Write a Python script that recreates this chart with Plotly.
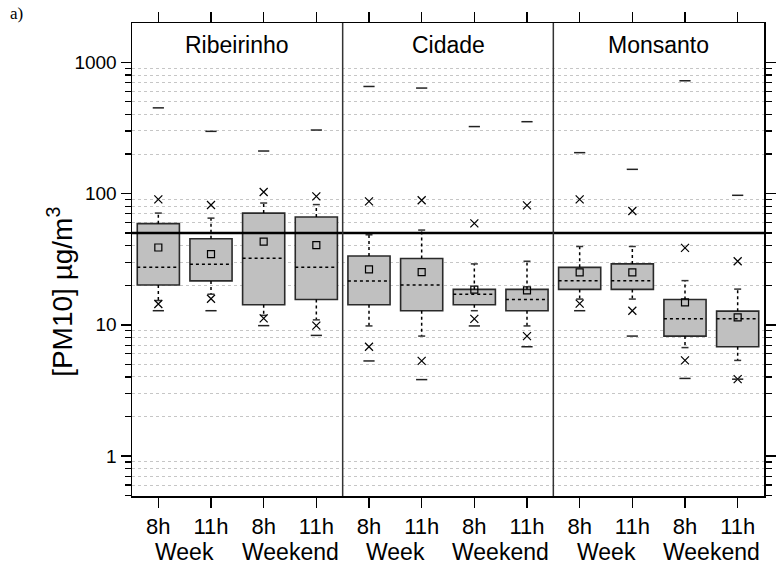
import plotly.graph_objects as go

# ---------------- data ----------------
sites = ["Ribeirinho", "Cidade", "Monsanto"]
hour_labels = ["8h", "11h", "8h", "11h", "8h", "11h", "8h", "11h", "8h", "11h", "8h", "11h"]
day_labels = ["Week", "Weekend", "Week", "Weekend", "Week", "Weekend"]

q1 =       [20.1, 21.6, 14.2, 15.6, 14.2, 12.8, 14.2, 12.8, 18.6, 18.6, 8.2, 6.8]
median =   [27.4, 28.9, 32.1, 27.4, 21.6, 20.1, 17.1, 15.6, 21.7, 21.7, 11.1, 11.1]
q3 =       [59.0, 45.2, 71.0, 66.2, 33.4, 32.0, 18.6, 18.6, 27.4, 29.1, 15.6, 12.7]
mean =     [38.8, 34.5, 43.1, 40.4, 26.4, 25.2, 18.5, 18.3, 25.1, 25.1, 14.8, 11.4]
whisk_lo = [15.3, 17.1, 11.8, 10.9, 9.8, 8.2, 12.8, 9.8, 15.7, 15.7, 6.7, 5.35]
whisk_hi = [71.0, 65.0, 84.7, 82.4, 48.5, 52.7, 29.1, 30.5, 39.5, 39.5, 21.7, 18.7]
p1 =       [14.4, 15.8, 11.2, 9.85, 6.8, 5.3, 11.1, 8.2, 14.5, 12.8, 5.35, 3.85]
p99 =      [90.4, 81.8, 102.8, 95.3, 87.3, 88.9, 59.3, 81.3, 90.4, 73.6, 38.6, 30.5]
vmin =     [12.8, 12.8, 9.85, 8.3, 5.3, 3.82, 9.8, 6.8, 12.8, 8.2, 3.9, 3.85]
vmax =     [450, 298, 211, 305, 655, 637, 324, 353, 205, 153, 724, 97]

limit_value = 50  # PM10 daily limit line

# ---------------- styling ----------------
FONT = "Liberation Sans, Arial, sans-serif"
BOX_FILL = "#c0c0c0"
BOX_LINE = "#2a2a2a"
HALF = 0.4

xs = list(range(len(q1)))
fig = go.Figure()

# boxes (25-75 %)
fig.add_trace(go.Bar(
    x=xs, base=q1, y=[b - a for a, b in zip(q1, q3)], width=2 * HALF,
    marker=dict(color=BOX_FILL, line=dict(color=BOX_LINE, width=1.6)),
    showlegend=False, hoverinfo="skip"))

# whiskers
wx, wy = [], []
for i in xs:
    wx += [i, i, None, i, i, None]
    wy += [q3[i], whisk_hi[i], None, q1[i], whisk_lo[i], None]
fig.add_trace(go.Scatter(x=wx, y=wy, mode="lines",
                         line=dict(color="black", width=1.5, dash="dot"),
                         showlegend=False, hoverinfo="skip"))
# whisker caps
fig.add_trace(go.Scatter(x=xs + xs, y=whisk_hi + whisk_lo, mode="markers",
                         marker=dict(symbol="line-ew-open", size=5, color="#333",
                                     line=dict(color="#333", width=1.5)),
                         showlegend=False, hoverinfo="skip"))

# medians
mx, my = [], []
for i in xs:
    mx += [i - HALF, i + HALF, None]
    my += [median[i], median[i], None]
fig.add_trace(go.Scatter(x=mx, y=my, mode="lines",
                         line=dict(color="black", width=1.5, dash="dot"),
                         showlegend=False, hoverinfo="skip"))

# means
fig.add_trace(go.Scatter(x=xs, y=mean, mode="markers",
                         marker=dict(symbol="square-open", size=7, color="black",
                                     line=dict(color="black", width=1.2)),
                         showlegend=False, hoverinfo="skip"))
# 1 % / 99 %
fig.add_trace(go.Scatter(x=xs + xs, y=p1 + p99, mode="markers",
                         marker=dict(symbol="x-thin-open", size=8, color="black",
                                     line=dict(color="black", width=1.2)),
                         showlegend=False, hoverinfo="skip"))
# min / max
fig.add_trace(go.Scatter(x=xs + xs, y=vmin + vmax, mode="markers",
                         marker=dict(symbol="line-ew-open", size=8, color="#222",
                                     line=dict(color="#222", width=1.5)),
                         showlegend=False, hoverinfo="skip"))

# limit line and site separators
fig.add_shape(type="line", xref="paper", x0=0, x1=1, yref="y",
              y0=limit_value, y1=limit_value, line=dict(color="black", width=2.5))
for sep in [3.5, 7.5]:
    fig.add_shape(type="line", xref="x", x0=sep, x1=sep, yref="paper", y0=0, y1=1,
                  line=dict(color="#333", width=1.5))

annotations = []
for k, s in enumerate(sites):
    annotations.append(dict(x=4 * k + 1.5, xref="x", y=1, yref="paper",
                            yanchor="middle", yshift=-22, text=s, showarrow=False,
                            font=dict(family=FONT, size=23, color="black")))
for k, d in enumerate(day_labels):
    annotations.append(dict(x=2 * k + 0.5, xref="x", y=0, yref="paper",
                            yanchor="middle", yshift=-56, text=d, showarrow=False,
                            font=dict(family=FONT, size=23, color="black")))
annotations.append(dict(x=0, xref="paper", xanchor="center", xshift=-72,
                        y=0.4316, yref="paper", yanchor="middle", textangle=-90,
                        text="[PM10] µg/m<sup>3</sup>", showarrow=False,
                        font=dict(family=FONT, size=28, color="black")))
annotations.append(dict(x=0, xref="paper", xanchor="left", xshift=-124,
                        y=1, yref="paper", yanchor="middle", yshift=10,
                        text="a)", showarrow=False,
                        font=dict(family="Liberation Serif, Times New Roman, serif",
                                  size=17, color="black")))

fig.update_layout(
    width=778, height=565,
    margin=dict(l=132, r=2, t=23, b=69),
    paper_bgcolor="white", plot_bgcolor="white",
    annotations=annotations,
    xaxis=dict(range=[-0.5, 11.5], tickmode="array", tickvals=xs, ticktext=hour_labels,
               ticks="outside", ticklen=10, tickwidth=1.5, tickcolor="black",
               showline=True, linecolor="black", linewidth=1.5, mirror="ticks",
               showgrid=False, zeroline=False,
               tickfont=dict(family=FONT, size=22, color="black")),
    yaxis=dict(type="log", range=[-0.305, 3.30], tickmode="linear", tick0=0, dtick=1,
               ticks="outside", ticklen=10, tickwidth=1.5, tickcolor="black",
               showline=True, linecolor="black", linewidth=1.5, mirror="allticks",
               showgrid=False, zeroline=False,
               tickfont=dict(family=FONT, size=19, color="black"),
               minor=dict(dtick="D1", ticks="outside", ticklen=6, tickwidth=1.2,
                          tickcolor="black", showgrid=True, gridcolor="#c6c6c6",
                          griddash="dot", gridwidth=1)),
)

fig.write_html("out.html",
               config={"displayModeBar": False, "staticPlot": True},
               post_script="document.body.style.margin='0';"
                           "document.body.style.overflow='hidden';")
